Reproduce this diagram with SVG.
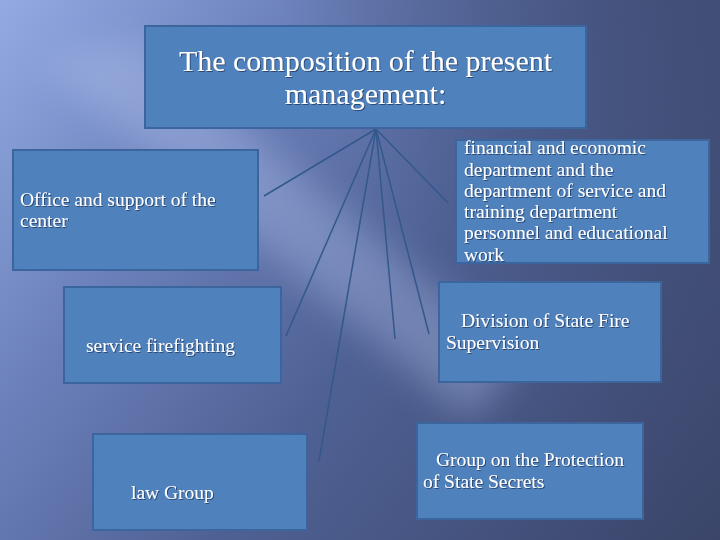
<svg xmlns="http://www.w3.org/2000/svg" width="720" height="540" viewBox="0 0 720 540">
<defs>
<linearGradient id="bg" x1="0" y1="0" x2="720" y2="540" gradientUnits="userSpaceOnUse">
<stop offset="0" stop-color="#93aae2"/>
<stop offset="0.28" stop-color="#6b80ba"/>
<stop offset="0.55" stop-color="#4f6194"/>
<stop offset="1" stop-color="#3a4468"/>
</linearGradient>
<linearGradient id="bg2" x1="720" y1="0" x2="400" y2="200" gradientUnits="userSpaceOnUse">
<stop offset="0" stop-color="#3e4a70" stop-opacity="0.8"/>
<stop offset="1" stop-color="#3e4a70" stop-opacity="0"/>
</linearGradient>
<filter id="blur" x="-20%" y="-20%" width="140%" height="140%"><feGaussianBlur stdDeviation="18"/></filter>
<filter id="ts" x="-5%" y="-20%" width="110%" height="140%"><feDropShadow dx="1" dy="1" stdDeviation="0.6" flood-color="#1d2f55" flood-opacity="0.7"/></filter>
<style>
.box{fill:#4f81bd;stroke:#3b659c;stroke-width:2}
.t{font-family:"Liberation Serif","Times New Roman",serif;fill:#ffffff;font-size:19.5px}
.title{font-size:30px;text-anchor:middle}
.c{stroke:#33588c;stroke-width:1.5;fill:none}
</style>
</defs>
<rect width="720" height="540" fill="url(#bg)"/>
<rect width="720" height="540" fill="url(#bg2)"/>
<polygon points="40,60 140,40 520,360 470,420" fill="#b8c8f2" opacity="0.35" filter="url(#blur)"/>
<g id="connectors">
<line class="c" x1="376" y1="129" x2="264" y2="196"/>
<line class="c" x1="376" y1="129" x2="286" y2="336"/>
<line class="c" x1="376" y1="129" x2="319" y2="461"/>
<line class="c" x1="376" y1="129" x2="395" y2="339"/>
<line class="c" x1="376" y1="129" x2="429" y2="334"/>
<line class="c" x1="376" y1="129" x2="448" y2="203"/>
</g>
<g id="top">
<rect class="box" x="145" y="26" width="441" height="102"/>
<text class="t title" filter="url(#ts)" x="365.5" y="71">The composition of the present</text>
<text class="t title" filter="url(#ts)" x="365.5" y="104">management:</text>
</g>
<g id="office">
<rect class="box" x="13" y="150" width="245" height="120"/>
<text class="t" filter="url(#ts)" x="20" y="206">Office and support of the</text>
<text class="t" filter="url(#ts)" x="20" y="227">center</text>
</g>
<g id="financial">
<rect class="box" x="456" y="140" width="253" height="123"/>
<text class="t" filter="url(#ts)" x="464" y="154">financial and economic</text>
<text class="t" filter="url(#ts)" x="464" y="175.5">department and the</text>
<text class="t" filter="url(#ts)" x="464" y="196.8">department of service and</text>
<text class="t" filter="url(#ts)" x="464" y="218">training department</text>
<text class="t" filter="url(#ts)" x="464" y="239.3">personnel and educational</text>
<text class="t" filter="url(#ts)" x="464" y="260.6">work</text>
</g>
<g id="service">
<rect class="box" x="64" y="287" width="217" height="96"/>
<text class="t" filter="url(#ts)" x="86" y="352">service firefighting</text>
</g>
<g id="division">
<rect class="box" x="439" y="282" width="222" height="100"/>
<text class="t" filter="url(#ts)" x="461" y="327">Division of State Fire</text>
<text class="t" filter="url(#ts)" x="446" y="348.5">Supervision</text>
</g>
<g id="law">
<rect class="box" x="93" y="434" width="214" height="96"/>
<text class="t" filter="url(#ts)" x="131" y="499">law Group</text>
</g>
<g id="secrets">
<rect class="box" x="417" y="423" width="226" height="96"/>
<text class="t" filter="url(#ts)" x="436" y="466">Group on the Protection</text>
<text class="t" filter="url(#ts)" x="423" y="488">of State Secrets</text>
</g>
</svg>
